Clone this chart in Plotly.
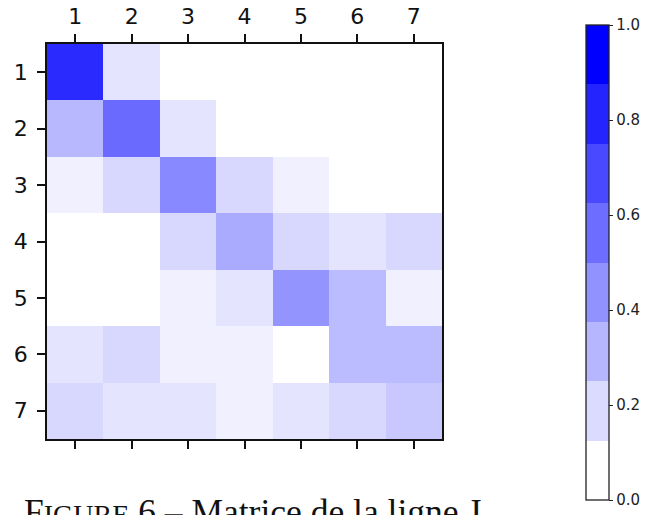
import plotly.graph_objects as go

labels = [1, 2, 3, 4, 5, 6, 7]

row1 = [0.835, 0.106, 0.0, 0.0, 0.0, 0.0, 0.0]
row2 = [0.278, 0.584, 0.106, 0.0, 0.0, 0.0, 0.0]
row3 = [0.059, 0.153, 0.467, 0.153, 0.059, 0.0, 0.0]
row4 = [0.0, 0.0, 0.153, 0.333, 0.153, 0.106, 0.153]
row5 = [0.0, 0.0, 0.059, 0.106, 0.42, 0.267, 0.059]
row6 = [0.106, 0.153, 0.059, 0.059, 0.0, 0.267, 0.267]
row7 = [0.153, 0.106, 0.106, 0.059, 0.106, 0.153, 0.216]
matrix = [row1, row2, row3, row4, row5, row6, row7]

cbar_ticks = [0.0, 0.2, 0.4, 0.6, 0.8, 1.0]
n_levels = 8
caption = "F<span style='font-size:28px'>IGURE</span> 6 – Matrice de la ligne J"

# stepped colour scale for the colour bar (8 discrete levels white -> blue)
stepped = []
for i in range(n_levels):
    g = round(255 * (1 - i / (n_levels - 1)))
    col = f"rgb({g},{g},255)"
    stepped.append([i / n_levels, col])
    stepped.append([(i + 1) / n_levels, col])

W, H = 663, 515
L, R, T, B = 47, 442, 44, 439
pw, ph = R - L, B - T

fig = go.Figure()
fig.add_trace(go.Heatmap(
    z=matrix, x=labels, y=labels,
    colorscale=[[0, "rgb(255,255,255)"], [1, "rgb(0,0,255)"]],
    zmin=0, zmax=1, showscale=False, hoverinfo="skip",
))

# colour bar carrier
fig.add_trace(go.Scatter(
    x=[1], y=[1], mode="markers", hoverinfo="skip", showlegend=False,
    marker=dict(
        size=1, opacity=0, color=[0], cmin=0, cmax=1,
        colorscale=stepped, showscale=True,
        colorbar=dict(
            x=(586 - L) / pw, xanchor="left", xpad=0,
            y=(B - 262.5) / ph, yanchor="middle", ypad=0,
            lenmode="pixels", len=475, thickness=23,
            outlinewidth=1.3, outlinecolor="#222",
            tickvals=cbar_ticks, ticktext=[f"{v:.1f}" for v in cbar_ticks],
            ticks="outside", ticklen=4, tickwidth=1.2, tickcolor="#222",
            tickfont=dict(family="DejaVu Sans", size=15, color="#222"),
        ),
    ),
))

axis_common = dict(
    tickvals=labels, ticktext=[str(v) for v in labels],
    ticks="outside", ticklen=8, tickwidth=1.5, tickcolor="#111",
    showline=True, linecolor="#111", linewidth=1.8,
    showgrid=False, zeroline=False,
    tickfont=dict(family="DejaVu Sans", size=22, color="#111"),
)

fig.update_xaxes(**axis_common, range=[0.5, 7.5], side="top", mirror="ticks",
                 ticklabelstandoff=1)
fig.update_yaxes(**axis_common, range=[7.5, 0.5], mirror=True,
                 ticklabelstandoff=5)

fig.add_annotation(
    text=caption, xref="paper", yref="paper",
    x=(22 - L) / pw, xanchor="left",
    y=(B - 512) / ph, yanchor="middle",
    showarrow=False,
    font=dict(family="Liberation Serif", size=35.5, color="#111"),
)

fig.update_layout(
    width=W, height=H,
    margin=dict(l=L, r=W - R, t=T, b=H - B, autoexpand=False),
    plot_bgcolor="white", paper_bgcolor="white",
    showlegend=False,
)

fig.write_html("out.html", config={"displayModeBar": False},
               post_script="document.body.style.margin='0';")
